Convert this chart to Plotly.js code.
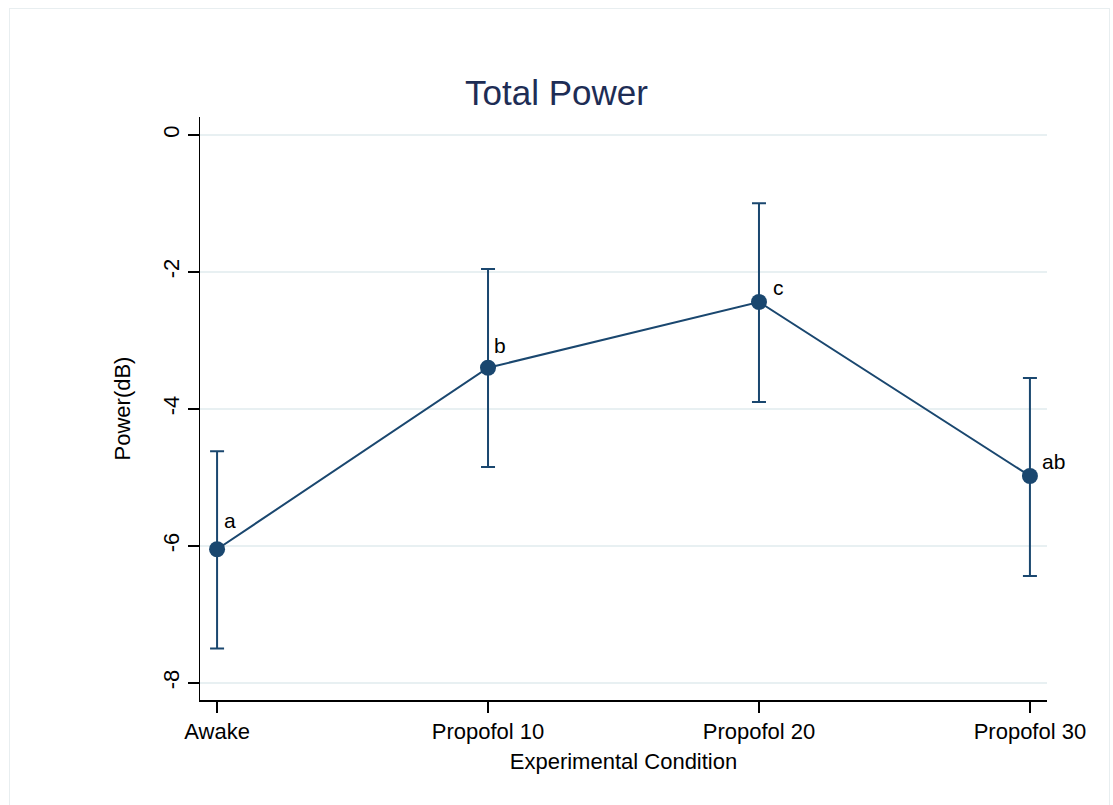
<!DOCTYPE html>
<html>
<head>
<meta charset="utf-8">
<script src="https://cdn.plot.ly/plotly-3.0.1.min.js"></script>
<style>
  html, body { margin: 0; padding: 0; background: #ffffff; overflow: hidden; }
  #frame { position: absolute; left: 9px; top: 8px; width: 1101px; height: 830px; border: 1px solid #e8eef0; box-sizing: border-box; }
  #chart { position: absolute; left: 0; top: 0; width: 1113px; height: 805px; }
</style>
</head>
<body>
<div id="frame"></div>
<div id="chart"></div>
<script>
// Data
const conditions = ["Awake", "Propofol 10", "Propofol 20", "Propofol 30"];
const meanPower = [-6.05, -3.40, -2.44, -4.98];
const upperCI = [-4.62, -1.96, -1.00, -3.55];
const lowerCI = [-7.50, -4.85, -3.90, -6.44];
const groupLabels = ["a", "b", "c", "ab"];
const yTickVals = [0, -2, -4, -6, -8];
const yTickText = ["0", "-2", "-4", "-6", "-8"];

const xIdx = conditions.map((c, i) => i);
const errPlus = meanPower.map((m, i) => upperCI[i] - m);
const errMinus = meanPower.map((m, i) => m - lowerCI[i]);

const navy = "#1a476f";
const fontFam = "Liberation Sans, Arial, Helvetica, sans-serif";

const trace = {
  type: "scatter",
  mode: "lines+markers",
  x: xIdx,
  y: meanPower,
  line: { color: navy, width: 2 },
  marker: { color: navy, size: 16, line: { width: 0 } },
  error_y: {
    type: "data",
    symmetric: false,
    array: errPlus,
    arrayminus: errMinus,
    color: navy,
    thickness: 2,
    width: 7
  },
  hoverinfo: "skip",
  cliponaxis: false
};

const labelShift = [[13, 29], [12, 22], [20, 14], [24, 14]];
const annotations = groupLabels.map((t, i) => ({
  x: xIdx[i], y: meanPower[i], xref: "x", yref: "y",
  text: t, showarrow: false,
  xanchor: "center", yanchor: "middle",
  xshift: labelShift[i][0], yshift: labelShift[i][1],
  font: { family: fontFam, size: 21, color: "#000000" }
}));

const layout = {
  width: 1113,
  height: 805,
  paper_bgcolor: "rgba(0,0,0,0)",
  plot_bgcolor: "#ffffff",
  margin: { l: 200, r: 66, t: 117, b: 105, pad: 0 },
  showlegend: false,
  title: {
    text: "Total Power",
    font: { family: fontFam, size: 35, color: "#1e2d55" },
    x: 0.5, xanchor: "center",
    y: 0.8845, yref: "container", yanchor: "middle"
  },
  xaxis: {
    range: [-0.063, 3.063],
    tickmode: "array",
    tickvals: xIdx,
    ticktext: conditions,
    ticks: "outside",
    ticklen: 11,
    tickwidth: 1.5,
    tickcolor: "#000000",
    showline: true,
    linecolor: "#000000",
    linewidth: 1.5,
    showgrid: false,
    zeroline: false,
    tickfont: { family: fontFam, size: 22, color: "#000000" },
    title: { text: "Experimental Condition", font: { family: fontFam, size: 22, color: "#000000" }, standoff: 10 },
    fixedrange: true
  },
  yaxis: {
    range: [-8.25, 0.26],
    tickmode: "array",
    tickvals: yTickVals,
    ticktext: yTickText,
    tickangle: -90,
    ticks: "outside",
    ticklen: 11,
    tickwidth: 1.5,
    tickcolor: "#000000",
    showline: true,
    linecolor: "#000000",
    linewidth: 1.5,
    showgrid: true,
    gridcolor: "#e8f0f2",
    gridwidth: 2,
    zeroline: false,
    tickfont: { family: fontFam, size: 22, color: "#000000" },
    title: { text: "Power(dB)", font: { family: fontFam, size: 22, color: "#000000" }, standoff: 22 },
    fixedrange: true
  },
  annotations: annotations
};

Plotly.newPlot("chart", [trace], layout, { displayModeBar: false, staticPlot: true });
</script>
</body>
</html>
